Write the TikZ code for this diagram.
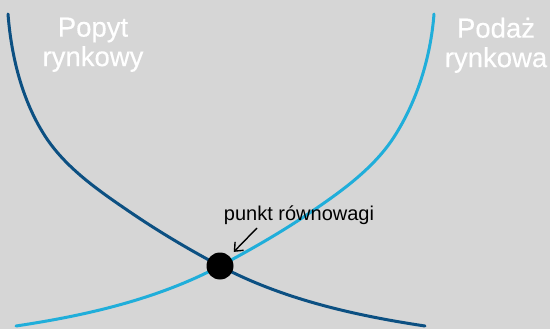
\documentclass[tikz,border=0pt]{standalone}
\usepackage{fontspec}
\setmainfont{Liberation Sans}
\newfontfamily\hdrfont[FakeBold=0.4]{Liberation Sans}
\usetikzlibrary{arrows.meta}
\definecolor{bg}{RGB}{214,214,214}
\definecolor{demand}{RGB}{12,80,130}
\definecolor{supply}{RGB}{32,174,218}
\tikzset{
  curve/.style={line width=3pt, line cap=round},
  header/.style={text=white, align=center, inner sep=0pt, anchor=north,
    font=\hdrfont\fontsize{27.5}{29.5}\selectfont},
  lbl/.style={text=black, inner sep=0pt, anchor=base,
    font=\fontsize{20}{22}\selectfont},
  eqdot/.style={circle, fill=black, minimum size=27pt, inner sep=0pt},
  pointer/.style={line width=1.4pt, -{Straight Barb[length=7pt,width=12pt]}}
}
\begin{document}
\begin{tikzpicture}[x=1pt,y=-1pt]
\fill[bg] (0,0) rectangle (550,329);
\useasboundingbox (0,0) rectangle (550,329);
% demand curve
\draw[curve, demand] (8,14) .. controls (11.3,56.4) and (22,100.3) .. (45,136)
  .. controls (65.6,167.9) and (98.6,190.6) .. (130,212)
  .. controls (158.9,231.7) and (189.1,249.6) .. (220,266)
  .. controls (282.7,299.2) and (354.8,315.5) .. (425,326);
% supply curve
\draw[curve, supply] (16,326) .. controls (86.2,315.5) and (157.3,299.2) .. (220,266)
  .. controls (250.9,249.6) and (282.1,231.7) .. (311,212)
  .. controls (341.6,191.2) and (373.9,168.1) .. (394,137)
  .. controls (417.3,100.9) and (430.7,56.9) .. (434,14);
\node[eqdot] (eq) at (220,266) {};
\node[header] (popyt) at (93,17.5) {Popyt\\rynkowy};
\node[header] (podaz) at (496,17.5) {Podaż\\rynkowa};
\node[lbl] (punkt) at (299,220) {punkt równowagi};
\coordinate (as) at (257,228);
\draw[pointer, shorten >=6pt] (as) -- (eq);
\end{tikzpicture}
\end{document}
